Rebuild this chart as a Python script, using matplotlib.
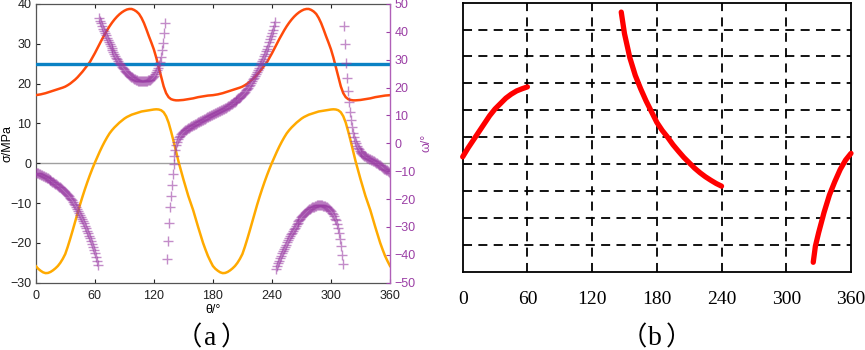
import numpy as np
import matplotlib
matplotlib.use("Agg")
import matplotlib.pyplot as plt

# ---------------- data: panel (a) ----------------
theta_sigma = [i * 2.5 for i in range(145)]
sigma1 = [
    17.1, 17.2, 17.3, 17.45, 17.6, 17.8, 18.0, 18.2, 18.4, 18.6,
    18.8, 19.0, 19.25, 19.6, 20.0, 20.5, 21.0, 21.6, 22.3, 23.0,
    23.8, 24.6, 25.4, 26.5, 27.6, 28.8, 30.0, 31.2, 32.3, 33.4,
    34.4, 35.3, 36.1, 36.8, 37.4, 37.9, 38.3, 38.6, 38.75, 38.75,
    38.5, 38.1, 37.5, 36.5, 35.2, 33.6, 31.9, 30.3, 28.6, 26.5,
    24.1, 21.6, 19.3, 17.6, 16.6, 16.1, 15.9, 15.8, 15.8, 15.85,
    15.9, 16.0, 16.1, 16.2, 16.3, 16.45, 16.6, 16.7, 16.8, 16.9,
    17.0, 17.05,
    17.1, 17.2, 17.3, 17.45, 17.6, 17.8, 18.0, 18.2, 18.4, 18.6,
    18.8, 19.0, 19.25, 19.6, 20.0, 20.5, 21.0, 21.6, 22.3, 23.0,
    23.8, 24.6, 25.4, 26.5, 27.6, 28.8, 30.0, 31.2, 32.3, 33.4,
    34.4, 35.3, 36.1, 36.8, 37.4, 37.9, 38.3, 38.6, 38.75, 38.75,
    38.5, 38.1, 37.5, 36.5, 35.2, 33.6, 31.9, 30.3, 28.6, 26.5,
    24.1, 21.6, 19.3, 17.6, 16.6, 16.1, 15.9, 15.8, 15.8, 15.85,
    15.9, 16.0, 16.1, 16.2, 16.3, 16.45, 16.6, 16.7, 16.8, 16.9,
    17.0, 17.05, 17.1,
]
sigma3 = [
    -25.8, -26.5, -27.0, -27.4, -27.6, -27.55, -27.3, -26.9, -26.4, -25.8,
    -25.0, -24.0, -22.8, -21.0, -19.0, -16.9, -14.7, -12.5, -10.4, -8.4,
    -6.5, -4.7, -3.0, -1.4, 0.1, 1.5, 2.9, 4.2, 5.4, 6.5,
    7.5, 8.3, 9.0, 9.6, 10.2, 10.7, 11.2, 11.6, 11.9, 12.2,
    12.4, 12.6, 12.8, 13.0, 13.1, 13.2, 13.3, 13.4, 13.5, 13.55,
    13.5, 13.3, 12.8, 11.8, 10.2, 8.0, 5.6, 3.0, 0.5, -1.8,
    -4.0, -6.1, -8.2, -10.0, -11.8, -13.9, -16.0, -18.0, -20.0, -21.7,
    -23.3, -24.6,
    -25.8, -26.5, -27.0, -27.4, -27.6, -27.55, -27.3, -26.9, -26.4, -25.8,
    -25.0, -24.0, -22.8, -21.0, -19.0, -16.9, -14.7, -12.5, -10.4, -8.4,
    -6.5, -4.7, -3.0, -1.4, 0.1, 1.5, 2.9, 4.2, 5.4, 6.5,
    7.5, 8.3, 9.0, 9.6, 10.2, 10.7, 11.2, 11.6, 11.9, 12.2,
    12.4, 12.6, 12.8, 13.0, 13.1, 13.2, 13.3, 13.4, 13.5, 13.55,
    13.5, 13.3, 12.8, 11.8, 10.2, 8.0, 5.6, 3.0, 0.5, -1.8,
    -4.0, -6.1, -8.2, -10.0, -11.8, -13.9, -16.0, -18.0, -20.0, -21.7,
    -23.3, -24.6, -25.8,
]
sigma_c = 25.0

nan = float("nan")
omega = [
    -10.5, -10.65, -10.8, -10.95, -11.1, -11.3, -11.5, -11.65, -11.8, -12.0,
    -12.2, -12.4, -12.6, -12.8, -13.05, -13.3, -13.5, -13.75, -14.0, -14.25,
    -14.5, -14.75, -15.0, -15.25, -15.5, -15.8, -16.1, -16.4, -16.7, -17.05,
    -17.4, -17.8, -18.2, -18.6, -19.0, -19.5, -20.0, -20.5, -21.1, -21.7,
    -22.3, -22.95, -23.6, -24.3, -25.0, -25.7, -26.45, -27.2, -27.95, -28.7,
    -29.5, -30.4, -31.3, -32.2, -33.1, -34.0, -35.1, -36.2, -37.3, -38.4,
    -39.5, -40.8, -42.1, -43.5, 45.0, 44.0, 43.0, 42.1, 41.2, 40.3,
    39.5, 38.7, 37.9, 37.1, 36.3, 35.5, 34.8, 34.1, 33.4, 32.7,
    32.0, 31.4, 30.8, 30.2, 29.6, 29.0, 28.5, 28.0, 27.5, 27.0,
    26.5, 26.1, 25.7, 25.3, 24.9, 24.5, 24.2, 23.9, 23.7, 23.4,
    23.2, 23.0, 22.8, 22.7, 22.5, 22.4, 22.3, 22.3, 22.2, 22.2,
    22.2, 22.3, 22.4, 22.5, 22.6, 22.7, 22.9, 23.2, 23.5, 23.9,
    24.3, 24.9, 25.5, 26.2, 27.0, 28.0, 29.2, 31.1, 33.5, 36.1,
    39.5, 43.3, nan, -41.6, -35.0, -28.5, -23.0, -19.0, -15.0, -11.0,
    -7.5, -4.5, -2.3, -0.6, 0.6, 1.5, 2.2, 2.8, 3.3, 3.7,
    4.1, 4.4, 4.7, 4.9, 5.2, 5.4, 5.6, 5.9, 6.1, 6.3,
    6.5, 6.7, 6.9, 7.1, 7.3, 7.5, 7.7, 7.9, 8.1, 8.3,
    8.5, 8.7, 8.9, 9.1, 9.3, 9.5, 9.7, 9.9, 10.1, 10.3,
    10.5, 10.65, 10.8, 10.95, 11.1, 11.3, 11.5, 11.65, 11.8, 12.0,
    12.2, 12.4, 12.6, 12.8, 13.05, 13.3, 13.5, 13.75, 14.0, 14.25,
    14.5, 14.75, 15.0, 15.25, 15.5, 15.8, 16.1, 16.4, 16.7, 17.05,
    17.4, 17.8, 18.2, 18.6, 19.0, 19.5, 20.0, 20.5, 21.1, 21.7,
    22.3, 22.95, 23.6, 24.3, 25.0, 25.7, 26.45, 27.2, 27.95, 28.7,
    29.5, 30.4, 31.3, 32.2, 33.1, 34.0, 35.1, 36.2, 37.3, 38.4,
    39.5, 40.8, 42.1, 43.5, -45.0, -44.0, -43.0, -42.1, -41.2, -40.3,
    -39.5, -38.7, -37.9, -37.1, -36.3, -35.5, -34.8, -34.1, -33.4, -32.7,
    -32.0, -31.4, -30.8, -30.2, -29.6, -29.0, -28.5, -28.0, -27.5, -27.0,
    -26.5, -26.1, -25.7, -25.3, -24.9, -24.5, -24.2, -23.9, -23.7, -23.4,
    -23.2, -23.0, -22.8, -22.7, -22.5, -22.4, -22.3, -22.3, -22.2, -22.2,
    -22.2, -22.3, -22.4, -22.5, -22.6, -22.7, -22.9, -23.2, -23.5, -23.9,
    -24.3, -24.9, -25.5, -26.2, -27.0, -27.6, -28.8, -30.2, -32.2, -34.5,
    -37.0, -40.0, -43.3, 42.0, 35.5, 29.0, 23.5, 18.8, 14.8, 11.2,
    8.2, 5.8, 3.8, 2.3, 1.0, 0.0, -0.8, -1.5, -2.1, -2.6,
    -3.0, -3.4, -3.8, -4.1, -4.4, -4.7, -4.9, -5.1, -5.3, -5.5,
    -5.7, -5.9, -6.1, -6.3, -6.5, -6.7, -6.9, -7.1, -7.3, -7.6,
    -7.9, -8.2, -8.5, -8.8, -9.1, -9.3, -9.5, -9.7, -9.9, -10.2,
    -10.5,
]
theta_omega = list(range(0, len(omega)))

# ---------------- data: panel (b) ----------------
b1_theta = [0, 5, 10, 15, 20, 25, 30, 35, 40, 45, 50, 55, 60]
b1_val = [4.27, 4.6, 4.9, 5.2, 5.5, 5.8, 6.05, 6.25, 6.45, 6.6, 6.72, 6.8, 6.87]
b2_theta = [147, 150, 155, 160, 165, 170, 175, 180, 185, 190, 195, 200,
            205, 210, 215, 220, 225, 230, 235, 240]
b2_val = [9.65, 8.85, 7.95, 7.3, 6.8, 6.35, 5.95, 5.55, 5.25, 5.0, 4.72, 4.48,
          4.25, 4.05, 3.85, 3.68, 3.53, 3.4, 3.28, 3.18]
b3_theta = [325, 327, 330, 335, 340, 345, 350, 355, 360]
b3_val = [0.35, 0.95, 1.45, 2.2, 2.85, 3.35, 3.8, 4.15, 4.4]

xticks = [0, 60, 120, 180, 240, 300, 360]
sigma_ticks = [-30, -20, -10, 0, 10, 20, 30, 40]
omega_ticks = [-50, -40, -30, -20, -10, 0, 10, 20, 30, 40, 50]

# ---------------- styling ----------------
C_S1 = "#FF4A0A"
C_S3 = "#FFAA00"
C_BLUE = "#0A82C4"
C_PURPLE = "#9B3FA5"
C_PURPLE_AX = "#B060B8"
SANS = ["Liberation Sans", "DejaVu Sans"]
SERIF = ["Liberation Serif", "DejaVu Serif"]
CJK = ["Noto Sans CJK SC", "DejaVu Sans"]

fig = plt.figure(figsize=(8.65, 3.5), dpi=100)

# ---------------- panel (a) ----------------
ax = fig.add_axes([0.0413, 0.1923, 0.4096, 0.7963])
ax.set_xlim(0, 360)
ax.set_ylim(-30, 40)
ax.axhline(0, color="#A0A0A0", lw=1.0, zorder=1)
ax.plot(theta_sigma, sigma1, color=C_S1, lw=1.8, zorder=3)
ax.plot(theta_sigma, sigma3, color=C_S3, lw=1.8, zorder=3)
ax.axhline(sigma_c, color=C_BLUE, lw=2.4, zorder=3)
ax.set_xticks(xticks)
ax.set_yticks(sigma_ticks)
ax.tick_params(axis="both", direction="in", length=3, labelsize=9,
               colors="#222222", top=True, width=0.8)
ax.tick_params(axis="x", pad=5)
ax.tick_params(axis="y", pad=3)
for lab in ax.get_xticklabels() + ax.get_yticklabels():
    lab.set_family(SANS)
for s in ["left", "top", "bottom"]:
    ax.spines[s].set_color("#555555")
    ax.spines[s].set_linewidth(0.9)
ax.spines["right"].set_visible(False)
ax.set_xlabel("θ/°", family=SANS, fontsize=9, labelpad=2)
ax.set_ylabel("σ/MPa", family=SANS, fontsize=9)
ax.yaxis.set_label_coords(-0.064, 0.5)

ax2 = ax.twinx()
ax2.set_ylim(-50, 50)
ax2.set_yticks(omega_ticks)
ax2.plot(theta_omega, omega, linestyle="none", marker="+", ms=6.5, mew=1.0,
         color=C_PURPLE, alpha=0.6, zorder=2)
ax2.tick_params(axis="y", direction="in", length=3, labelsize=9,
                colors=C_PURPLE, width=0.8, pad=3)
for lab in ax2.get_yticklabels():
    lab.set_family(SANS)
ax2.spines["right"].set_color(C_PURPLE_AX)
ax2.spines["right"].set_linewidth(1.0)
for s in ["left", "top", "bottom"]:
    ax2.spines[s].set_visible(False)
ax2.set_ylabel("ω/°", family=SANS, fontsize=9, color=C_PURPLE)
ax2.yaxis.set_label_coords(1.085, 0.5)

# ---------------- panel (b) ----------------
bx = fig.add_axes([0.5349, 0.2237, 0.4489, 0.7686])
bx.set_xlim(0, 360)
bx.set_ylim(0, 10)
for yv in range(1, 10):
    bx.axhline(yv, color="black", lw=1.3, ls=(0, (5, 3.5)), zorder=1)
for xv in xticks[1:-1]:
    bx.axvline(xv, color="black", lw=1.3, ls=(0, (5, 3.5)), zorder=1)
for th, v in [(b1_theta, b1_val), (b2_theta, b2_val), (b3_theta, b3_val)]:
    bx.plot(th, v, color="#FF0000", lw=3.8, solid_capstyle="round", zorder=3,
            clip_on=False)
bx.set_xticks(xticks)
bx.set_yticks([])
bx.tick_params(axis="x", length=0, pad=14, labelsize=14)
for lab in bx.get_xticklabels():
    lab.set_family(SERIF)
for s in bx.spines.values():
    s.set_color("black")
    s.set_linewidth(1.3)

# captions: full-width brackets from the CJK font, letter in serif
def caption(xc_px, letter):
    y = 1 - 345 / 350
    fig.text(xc_px / 865, y, letter, ha="center", va="baseline", fontsize=20,
             family=SERIF)
    fig.text((xc_px - 8) / 865, y, "（", ha="right", va="baseline",
             fontsize=19, family=CJK)
    fig.text((xc_px + 11) / 865, y, "）", ha="left", va="baseline",
             fontsize=19, family=CJK)

caption(210, "a")
caption(655, "b")

fig.savefig("out.png", dpi=100)
